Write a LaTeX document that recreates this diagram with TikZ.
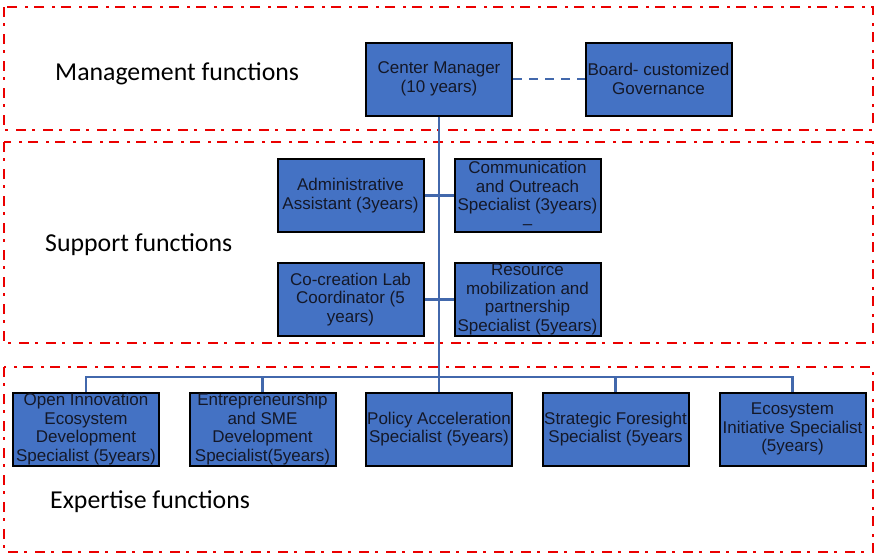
\documentclass[tikz,border=0pt]{standalone}
\usepackage{fontspec}
\setmainfont{Liberation Sans}
\newfontfamily\labfont{Carlito}
\definecolor{boxblue}{RGB}{68,114,196}
\definecolor{linkblue}{RGB}{66,104,172}
\definecolor{boxtext}{RGB}{20,24,40}
\definecolor{zonered}{RGB}{235,0,0}
\begin{document}
\begin{tikzpicture}[x=1pt,y=-1pt,
  zone/.style={draw=zonered,line width=2.2pt,dash pattern=on 10pt off 6pt on 3pt off 8pt},
  rolebox/.style={draw=black,line width=2pt,fill=boxblue,minimum width=146pt,minimum height=73pt,
    inner sep=0pt,align=center,text=boxtext,font=\fontsize{17}{18.6}\selectfont},
  link/.style={draw=linkblue,line width=2.5pt},
  zonelabel/.style={anchor=base west,inner sep=0pt,font=\labfont\fontsize{25.8}{28}\selectfont}]
\useasboundingbox (0,0) rectangle (878,554);
% zones
\draw[zone] (4,7) rectangle (873,130);
\draw[zone] (4,142) rectangle (873,343);
\draw[zone] (4,367) rectangle (873,552);
% labels
\node[zonelabel] (lm) at (55,80) {Management functions};
\node[zonelabel] (ls) at (45,251) {Support functions};
\node[zonelabel] (le) at (50,508) {Expertise functions};
% junction of the expertise bar
\coordinate (bar) at (439,377);
% boxes
\node[rolebox] (mgr) at (439,79) {Center Manager\\(10 years)};
\node[rolebox] (brd) at (658.5,79) {Board- customized\\Governance};
\node[rolebox] (adm) at (350.5,195.5) {Administrative\\Assistant (3years)};
\node[rolebox] (com) at (527.5,195.5) {Communication\\and Outreach\\Specialist (3years)\\–};
\node[rolebox] (cocr) at (350.5,299.5) {Co-creation Lab\\Coordinator (5\\years)};
\node[rolebox] (res) at (527.5,299.5) {Resource\\mobilization and\\partnership\\Specialist (5years)};
\node[rolebox] (oi) at (86,429) {Open Innovation\\Ecosystem\\Development\\Specialist (5years)};
\node[rolebox] (ent) at (262.5,429) {Entrepreneurship\\and SME\\Development\\Specialist(5years)};
\node[rolebox] (pol) at (439,429) {Policy Acceleration\\Specialist (5years)};
\node[rolebox] (str) at (615.5,429) {Strategic Foresight\\Specialist (5years};
\node[rolebox] (eco) at (792.5,429) {Ecosystem\\Initiative Specialist\\(5years)};
% links
\draw[link,dash pattern=on 9pt off 7pt] (mgr.east) -- (brd.west);
\draw[link] (mgr.south) -- (pol.north);
\draw[link] (adm.east) -- (com.west);
\draw[link] (cocr.east) -- (res.west);
\draw[link] (oi.north) |- (bar) -| (eco.north);
\draw[link] (ent.north) |- (bar);
\draw[link] (str.north) |- (bar);
\end{tikzpicture}
\end{document}
